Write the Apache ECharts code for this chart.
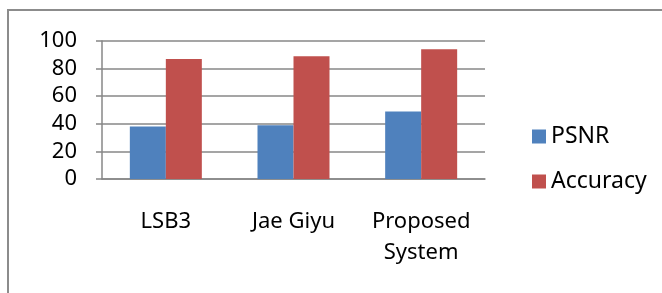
<!DOCTYPE html>
<html>
<head>
<meta charset="utf-8">
<script src="https://cdn.jsdelivr.net/npm/echarts@6/dist/echarts.min.js"></script>
<style>
  html, body { margin: 0; padding: 0; background: #fff; }
  #chart { width: 662px; height: 293px; }
</style>
</head>
<body>
<div id="chart"></div>
<script>
var categories = ["LSB3", "Jae Giyu", "Proposed\nSystem"];
var psnr = [38, 39, 49];
var accuracy = [87, 89, 94];
var yTicks = [0, 20, 40, 60, 80, 100];

var font = "Noto Sans",
    gray = "#878787";

var chart = echarts.init(document.getElementById("chart"));

var option = {
    animation: false,
    backgroundColor: "#fff",
    textStyle: { fontFamily: font },
    // chart frame, only top and left edges show in the crop
    graphic: [{
        type: "rect",
        shape: { x: 8, y: 10, width: 700, height: 320 },
        style: { fill: "none", stroke: "#8c8c8c", lineWidth: 2 }
    }],
    grid: { left: 102, right: 177, top: 41, bottom: 114 },
    legend: {
        orient: "vertical",
        left: 527,
        top: 120,
        itemWidth: 14,
        itemHeight: 14,
        itemGap: 22,
        icon: "rect",
        textStyle: { fontFamily: font, fontSize: 23, color: "#000" },
        data: ["PSNR", "Accuracy"]
    },
    xAxis: {
        type: "category",
        data: categories,
        axisLine: { lineStyle: { color: gray, width: 1.5 } },
        axisTick: { length: 8, lineStyle: { color: gray, width: 1.5 } },
        axisLabel: {
            fontFamily: font, fontSize: 22, color: "#000",
            margin: 27, lineHeight: 31, interval: 0
        }
    },
    yAxis: {
        type: "value",
        min: yTicks[0],
        max: yTicks[yTicks.length - 1],
        interval: 20,
        axisLine: { show: true, lineStyle: { color: gray, width: 1.5 } },
        axisTick: { show: true, length: 6, lineStyle: { color: gray, width: 1.5 } },
        splitLine: { lineStyle: { color: gray, width: 1.5 } },
        axisLabel: { fontFamily: font, fontSize: 22, color: "#000", margin: 25 }
    },
    series: [{
        name: "PSNR",
        type: "bar",
        data: psnr,
        barWidth: 36,
        barGap: "0%",
        itemStyle: { color: "#4F81BD" }
    }, {
        name: "Accuracy",
        type: "bar",
        data: accuracy,
        barWidth: 36,
        barGap: "0%",
        itemStyle: { color: "#C0504D" }
    }]
};

chart.setOption(option);
</script>
</body>
</html>
